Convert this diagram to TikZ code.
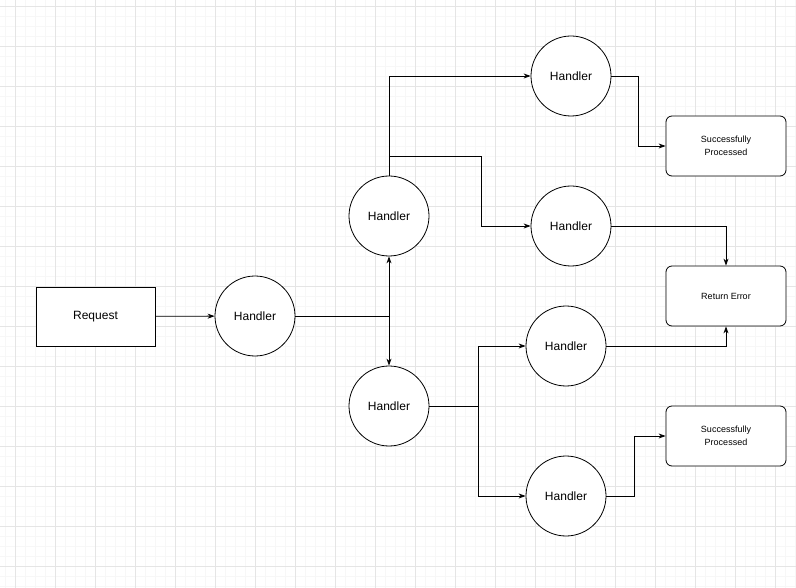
\documentclass[tikz,border=0pt]{standalone}
\usepackage{fontspec}
\setmainfont{Liberation Sans}
\usetikzlibrary{arrows.meta}
\begin{document}
\begin{tikzpicture}[x=1pt,y=-1pt,
  hc/.style={circle,draw,line width=0.8pt,minimum size=80pt,inner sep=0pt,font=\fontsize{12}{14}\selectfont},
  rb/.style={draw,line width=0.8pt,rounded corners=6pt,minimum width=120pt,minimum height=60pt,inner sep=0pt,align=center,font=\fontsize{9}{13}\selectfont},
  ar/.style={draw,line width=0.8pt,-{Stealth[length=7pt,width=5pt]}},
  ln/.style={draw,line width=0.8pt}]
\useasboundingbox (0,0) rectangle (796,588);
\foreach \x in {5,15,...,795} \draw[line width=0.6pt,black!3] (\x,0) -- (\x,588);
\foreach \y in {6,16,...,586} \draw[line width=0.6pt,black!3] (0,\y) -- (796,\y);
\foreach \x in {15,55,...,795} \draw[line width=0.6pt,black!10] (\x,0) -- (\x,588);
\foreach \y in {6,46,...,586} \draw[line width=0.6pt,black!10] (0,\y) -- (796,\y);
\node[draw,line width=0.8pt,minimum width=119pt,minimum height=59pt,inner sep=0pt,font=\fontsize{12}{14}\selectfont,fill=white] (req) at (95.5,316.5) {Request};
\node[hc,fill=white] (h1) at (255,316) {Handler};
\node[hc,fill=white] (h2) at (389,216) {Handler};
\node[hc,fill=white] (h3) at (389,406) {Handler};
\node[hc,fill=white] (h4) at (571,76) {Handler};
\node[hc,fill=white] (h5) at (571,226) {Handler};
\node[hc,fill=white] (h6) at (566,346) {Handler};
\node[hc,fill=white] (h7) at (566,496) {Handler};
\node[rb,fill=white] (sp1) at (726,146) {Successfully\\Processed};
\node[rb,fill=white] (re) at (726,296) {Return Error};
\node[rb,fill=white] (sp2) at (726,436) {Successfully\\Processed};
\coordinate (j1) at (389,316);
\coordinate (j2) at (389,156);
\coordinate (j3) at (478,406);
\draw[ar] (req) -- (h1);
\draw[ln] (h1) -- (j1);
\draw[ar] (j1) -- (h2);
\draw[ar] (j1) -- (h3);
\draw[ar] (h2.north) |- (h4);
\draw[ar] (j2) -| (481,226) -- (h5);
\draw[ar] (h4) -| (638,146) -- (sp1);
\draw[ar] (h5) -| (re.north);
\draw[ln] (h3) -- (j3);
\draw[ar] (j3) |- (h6);
\draw[ar] (j3) |- (h7);
\draw[ar] (h6) -| (re.south);
\draw[ar] (h7) -| (634,436) -- (sp2);
\end{tikzpicture}
\end{document}
